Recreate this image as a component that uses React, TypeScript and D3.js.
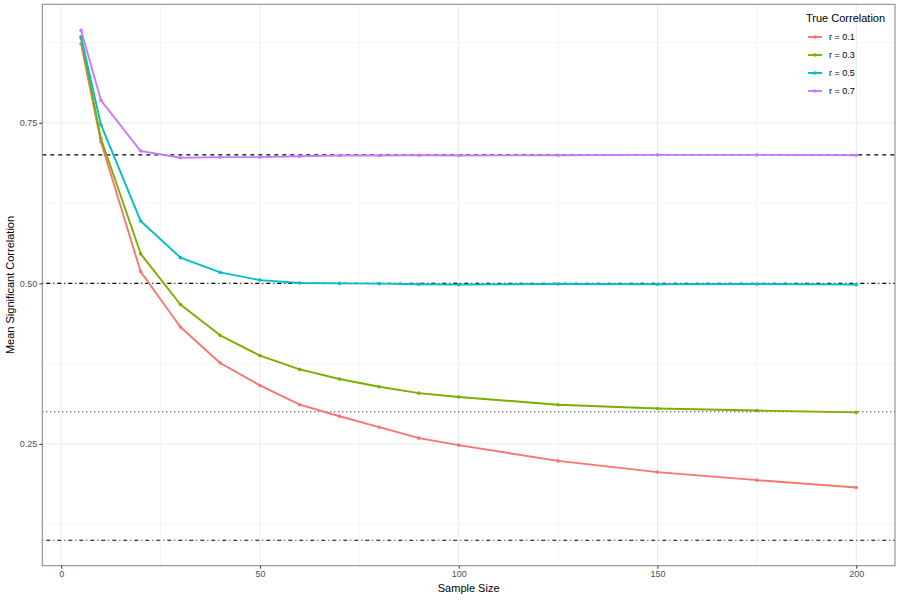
import * as d3 from 'd3'
import { useEffect, useRef } from 'react'

const width = 900
const height = 600
const panelLeft = 42.3
const panelRight = 895
const panelTop = 4.3
const panelBottom = 565.7

// Sample sizes and mean significant correlation per true correlation
const sampleSizes = [5, 10, 20, 30, 40, 50, 60, 70, 80, 90, 100, 125, 150, 175, 200]
const r01 = [0.873, 0.72, 0.518, 0.432, 0.376, 0.341, 0.311, 0.293, 0.276, 0.259, 0.248, 0.2235, 0.206, 0.1935, 0.182]
const r03 = [0.882, 0.7255, 0.546, 0.467, 0.419, 0.3875, 0.366, 0.351, 0.339, 0.329, 0.323, 0.311, 0.305, 0.302, 0.299]
const r05 = [0.884, 0.747, 0.597, 0.54, 0.517, 0.505, 0.5005, 0.5, 0.4995, 0.4985, 0.498, 0.499, 0.4985, 0.499, 0.498]
const r07 = [0.894, 0.785, 0.706, 0.6955, 0.6965, 0.6965, 0.698, 0.699, 0.699, 0.6995, 0.699, 0.6995, 0.7, 0.7, 0.6995]

const seriesNames = ['r = 0.1', 'r = 0.3', 'r = 0.5', 'r = 0.7']
const seriesValues = [r01, r03, r05, r07]
const seriesColors = ['#F8766D', '#7CAE00', '#00BFC4', '#C77CFF']

// Reference lines at the true correlations
const refValues = [0.7, 0.5, 0.3, 0.1]
const refDashes = ['4 4', '1 3 4 3', '1 3', '1 3 4 3']

const xTicks = [0, 50, 100, 150, 200]
const xMinor = [25, 75, 125, 175]
const yTicks = [0.25, 0.5, 0.75]
const yMinor = [0.125, 0.375, 0.625, 0.875]

const font = 'Liberation Sans, Arial, sans-serif'

export default function App() {
  const ref = useRef(null)

  useEffect(() => {
    const svg = d3.select(ref.current)
    svg.selectAll('*').remove()

    const x = d3.scaleLinear([-4.75, 209.75], [panelLeft, panelRight])
    const y = d3.scaleLinear([0.0603, 0.9345], [panelBottom, panelTop])

    svg.append('rect').attr('width', width).attr('height', height).attr('fill', '#fff')

    // grid
    const grid = svg.append('g').attr('fill', 'none').attr('stroke', '#EBEBEB')
    grid
      .selectAll('.vminor')
      .data(xMinor)
      .join('line')
      .attr('x1', d => x(d))
      .attr('x2', d => x(d))
      .attr('y1', panelTop)
      .attr('y2', panelBottom)
      .attr('stroke-width', 0.5)
    grid
      .selectAll('.hminor')
      .data(yMinor)
      .join('line')
      .attr('x1', panelLeft)
      .attr('x2', panelRight)
      .attr('y1', d => y(d))
      .attr('y2', d => y(d))
      .attr('stroke-width', 0.5)
    grid
      .selectAll('.vmajor')
      .data(xTicks)
      .join('line')
      .attr('x1', d => x(d))
      .attr('x2', d => x(d))
      .attr('y1', panelTop)
      .attr('y2', panelBottom)
      .attr('stroke-width', 1)
    grid
      .selectAll('.hmajor')
      .data(yTicks)
      .join('line')
      .attr('x1', panelLeft)
      .attr('x2', panelRight)
      .attr('y1', d => y(d))
      .attr('y2', d => y(d))
      .attr('stroke-width', 1)

    // reference lines
    svg
      .append('g')
      .selectAll('line')
      .data(refValues)
      .join('line')
      .attr('x1', panelLeft)
      .attr('x2', panelRight)
      .attr('y1', d => y(d))
      .attr('y2', d => y(d))
      .attr('stroke', '#000')
      .attr('stroke-width', 1.1)
      .attr('stroke-dasharray', (_, i) => refDashes[i])

    // series
    const line = d3
      .line<number>()
      .x((_, i) => x(sampleSizes[i]))
      .y(d => y(d))

    seriesValues.forEach((vals, s) => {
      const g = svg.append('g')
      g.append('path')
        .attr('fill', 'none')
        .attr('stroke', seriesColors[s])
        .attr('stroke-width', 1.9)
        .attr('stroke-linejoin', 'round')
        .attr('d', line(vals))
      g.selectAll('circle')
        .data(vals)
        .join('circle')
        .attr('cx', (_, i) => x(sampleSizes[i]))
        .attr('cy', d => y(d))
        .attr('r', 1.8)
        .attr('fill', seriesColors[s])
    })

    // panel border
    svg
      .append('rect')
      .attr('x', panelLeft)
      .attr('y', panelTop)
      .attr('width', panelRight - panelLeft)
      .attr('height', panelBottom - panelTop)
      .attr('fill', 'none')
      .attr('stroke', '#8c8c8c')
      .attr('stroke-width', 1.1)

    // axes
    const xAxis = svg
      .append('g')
      .attr('transform', `translate(0,${panelBottom})`)
      .call(d3.axisBottom(x).tickValues(xTicks).tickSize(3).tickPadding(2))
    xAxis.select('.domain').remove()
    xAxis.selectAll('.tick line').attr('stroke', '#333')
    xAxis
      .selectAll('.tick text')
      .attr('fill', '#4D4D4D')
      .attr('font-size', 9)
      .attr('font-family', font)

    const yAxis = svg
      .append('g')
      .attr('transform', `translate(${panelLeft},0)`)
      .call(
        d3
          .axisLeft(y)
          .tickValues(yTicks)
          .tickSize(3)
          .tickPadding(2)
          .tickFormat(d3.format('.2f'))
      )
    yAxis.select('.domain').remove()
    yAxis.selectAll('.tick line').attr('stroke', '#333')
    yAxis
      .selectAll('.tick text')
      .attr('fill', '#4D4D4D')
      .attr('font-size', 9)
      .attr('font-family', font)

    // axis titles
    svg
      .append('text')
      .attr('x', (panelLeft + panelRight) / 2)
      .attr('y', 592)
      .attr('text-anchor', 'middle')
      .attr('font-size', 11)
      .attr('font-family', font)
      .text('Sample Size')
    svg
      .append('text')
      .attr('transform', `translate(14,${(panelTop + panelBottom) / 2}) rotate(-90)`)
      .attr('text-anchor', 'middle')
      .attr('font-size', 11)
      .attr('font-family', font)
      .text('Mean Significant Correlation')

    // legend
    const legend = svg.append('g').attr('font-family', font)
    legend
      .append('rect')
      .attr('x', 805)
      .attr('y', 27)
      .attr('width', 46)
      .attr('height', 74)
      .attr('fill', '#fff')
    legend
      .append('text')
      .attr('x', 806)
      .attr('y', 22)
      .attr('font-size', 11)
      .text('True Correlation')
    const items = legend
      .selectAll('.item')
      .data(seriesNames)
      .join('g')
      .attr('transform', (_, i) => `translate(0,${37 + i * 18})`)
    items
      .append('line')
      .attr('x1', 808)
      .attr('x2', 822)
      .attr('stroke', (_, i) => seriesColors[i])
      .attr('stroke-width', 1.9)
    items
      .append('circle')
      .attr('cx', 815)
      .attr('r', 1.8)
      .attr('fill', (_, i) => seriesColors[i])
    items
      .append('text')
      .attr('x', 829)
      .attr('dy', '0.35em')
      .attr('font-size', 9)
      .text(d => d)
  }, [])

  return (
    <svg
      ref={ref}
      width={width}
      height={height}
      viewBox={`0 0 ${width} ${height}`}
      style={{ position: 'absolute', left: 0, top: 0, display: 'block' }}
    ></svg>
  )
}
